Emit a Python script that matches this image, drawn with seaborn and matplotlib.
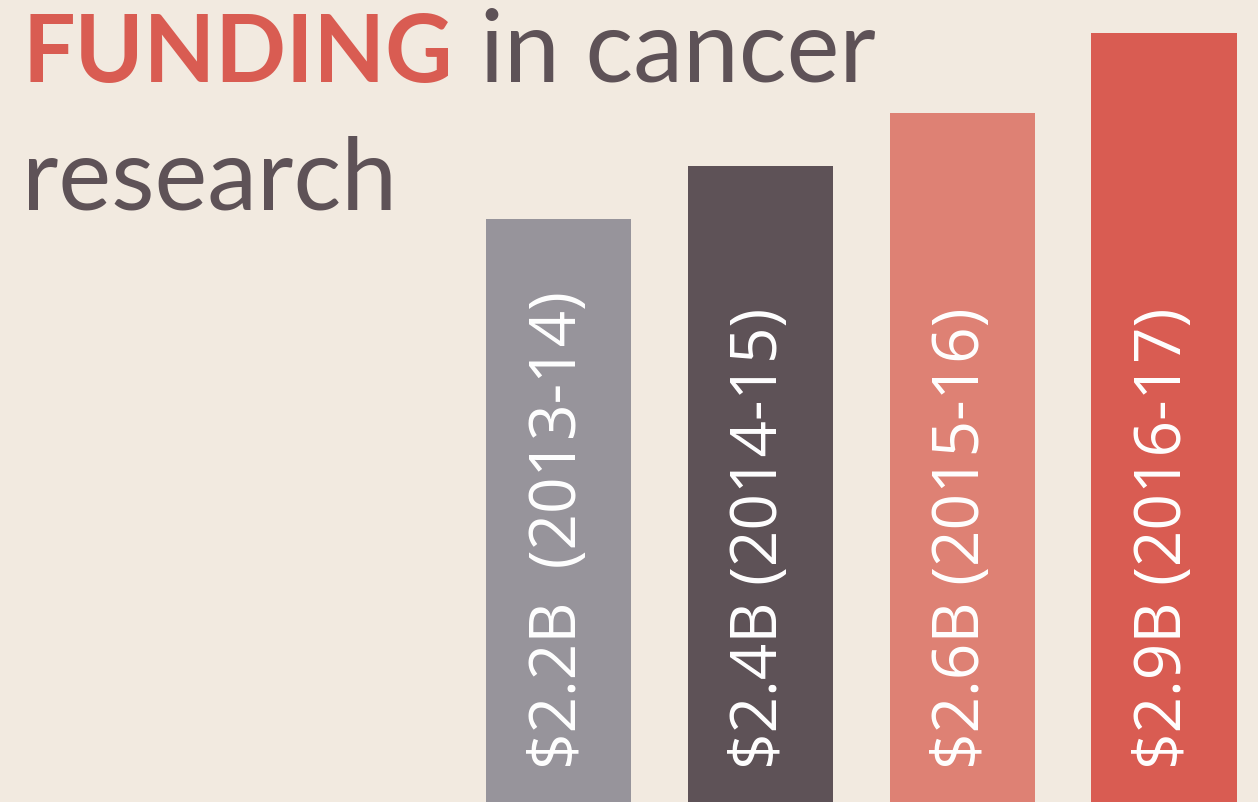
import matplotlib
matplotlib.use("Agg")
import matplotlib.pyplot as plt
import seaborn as sns
import pandas as pd

years = ["2013-14", "2014-15", "2015-16", "2016-17"]
funding = [2.2, 2.4, 2.6, 2.9]
labels = ["$2.2B  (2013-14)", "$2.4B (2014-15)", "$2.6B (2015-16)", "$2.9B (2016-17)"]
colors = ["#97949B", "#5E5257", "#DE8174", "#D95C52"]

BG = "#F2EAE0"
sns.set_theme(style="white")
plt.rcParams["font.family"] = ["Open Sans", "DejaVu Sans"]

df = pd.DataFrame({"year": years, "funding": funding})

fig = plt.figure(figsize=(12.58, 8.02), dpi=100, facecolor=BG)
ax = fig.add_axes([0, 0, 1, 1])
ax.set_facecolor(BG)
sns.barplot(data=df, x="year", y="funding", hue="year", palette=colors,
            width=0.72, legend=False, ax=ax, saturation=1, linewidth=0)
ax.set_xlim(-2.768, 3.466)
ax.set_ylim(0, 3.026)
ax.axis("off")

for i, (v, lab) in enumerate(zip(funding, labels)):
    ax.text(i, 0.125, lab, rotation=90, ha="center", va="bottom",
            color="white", fontsize=46, fontfamily=["Open Sans", "DejaVu Sans"])

tfont = ["Lato", "DejaVu Sans"]
fig.text(22/1258, 1 - 82/802, "FUNDING", color="#D95C52", fontsize=67,
         fontweight="bold", va="baseline", ha="left", fontfamily=tfont)
fig.text(480/1258, 1 - 82/802, "in cancer", color="#5E5257", fontsize=72,
         va="baseline", ha="left", fontfamily=tfont)
fig.text(22/1258, 1 - 210/802, "research", color="#5E5257", fontsize=72,
         va="baseline", ha="left", fontfamily=tfont)

fig.savefig("out.png", dpi=100, facecolor=BG)
